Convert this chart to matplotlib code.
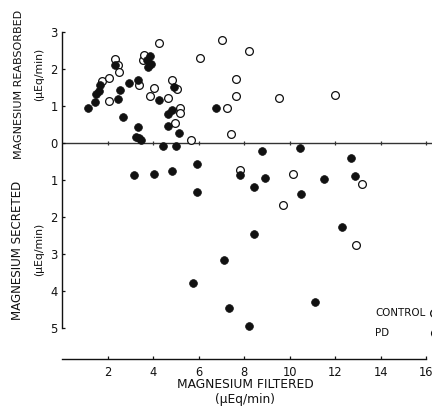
import matplotlib
matplotlib.use("Agg")
import matplotlib.pyplot as plt
from matplotlib.lines import Line2D

plt.rcParams["font.family"] = ["DejaVu Sans"]
INK = "#111111"

# Control (open circles): magnesium filtered vs net reabsorbed (+) / secreted (-)
ctrl_filtered = [2.06, 1.74, 2.06, 2.35, 2.47, 2.50, 3.37, 3.56, 3.59, 4.03, 3.88,
                 4.25, 4.65, 4.84, 5.06, 5.20, 5.20, 4.96, 5.68, 6.05, 7.04, 8.23,
                 7.64, 7.64, 7.25, 7.43, 9.53, 11.99, 7.83, 10.13, 13.20, 9.73, 12.91]
ctrl_net = [1.12, 1.68, 1.75, 2.26, 2.11, 1.92, 1.57, 2.24, 2.38, 1.49, 1.27,
            2.69, 1.22, 1.69, 1.46, 0.93, 0.80, 0.53, 0.08, 2.29, 2.78, 2.49,
            1.73, 1.27, 0.93, 0.24, 1.21, 1.30, -0.73, -0.84, -1.11, -1.68, -2.76]

# PD (filled circles)
pd_filtered = [1.15, 1.46, 1.50, 1.62, 1.69, 2.31, 2.45, 2.57, 2.68, 2.95, 3.35,
               3.34, 3.26, 3.38, 3.49, 3.72, 3.88, 3.80, 3.90, 4.25, 4.46, 4.67,
               4.66, 4.85, 4.91, 5.02, 5.16, 3.15, 4.05, 4.85, 5.94, 5.93, 6.76,
               5.76, 8.81, 10.45, 12.69, 7.83, 8.93, 8.42, 11.50, 12.89, 10.51,
               8.42, 12.29, 7.13, 7.35, 8.23, 11.12]
pd_net = [0.94, 1.10, 1.32, 1.41, 1.57, 2.11, 1.19, 1.43, 0.71, 1.61, 1.70,
          0.44, 0.17, 0.14, 0.09, 2.23, 2.34, 2.05, 2.12, 1.15, -0.08, 0.78,
          0.46, 0.89, 1.50, -0.08, 0.26, -0.88, -0.84, -0.77, -0.57, -1.34, 0.93,
          -3.78, -0.21, -0.15, -0.41, -0.88, -0.96, -1.19, -0.98, -0.89, -1.38,
          -2.46, -2.26, -3.16, -4.45, -4.95, -4.29]

x_ticks = [2, 4, 6, 8, 10, 12, 14, 16]
y_ticks = [3, 2, 1, 0, -1, -2, -3, -4, -5]
y_ticklabels = [str(abs(v)) for v in y_ticks]

fig = plt.figure(figsize=(4.32, 4.08), dpi=100)
ax = fig.add_axes([62 / 432, 1 - 359 / 408, 370 / 432, 334.5 / 408])
ax.set_xlim(0, 16.26)
ax.set_ylim(-5.84, 3.2)

# zero line with small tick marks
ax.axhline(0, color="#333333", lw=1.0, zorder=1)
ax.plot(x_ticks, [0] * len(x_ticks), "|", color="#333333", ms=3, mew=0.9, zorder=1)

ax.plot(ctrl_filtered, ctrl_net, "o", ms=5.6, mfc="white", mec=INK, mew=0.9,
        ls="none", zorder=3)
ax.plot(pd_filtered, pd_net, "o", ms=5.6, mfc=INK, mec=INK, mew=0.5,
        ls="none", zorder=4)

for s in ("top", "right"):
    ax.spines[s].set_visible(False)
ax.spines["left"].set_bounds(-5, 3)
ax.spines["bottom"].set_bounds(0, 16)
for s in ("left", "bottom"):
    ax.spines[s].set_linewidth(1.0)
    ax.spines[s].set_color(INK)

ax.set_xticks(x_ticks)
ax.set_xticklabels([str(v) for v in x_ticks])
ax.set_yticks(y_ticks)
ax.set_yticklabels(y_ticklabels)
ax.tick_params(direction="in", length=2.5, width=0.9, colors=INK, labelsize=8.3)
ax.tick_params(axis="x", pad=5)
ax.tick_params(axis="y", pad=3)

fig.text(245 / 432, 1 - 384 / 408, "MAGNESIUM FILTERED", ha="center", va="center",
         fontsize=8.8, color=INK)
fig.text(245 / 432, 1 - 399 / 408, "(\u03bcEq/min)", ha="center", va="center",
         fontsize=8.8, color=INK)
fig.text(19 / 432, 1 - 84 / 408, "MAGNESIUM REABSORBED", ha="center", va="center",
         rotation=90, fontsize=8.0, color=INK)
fig.text(39 / 432, 1 - 74 / 408, "(\u03bcEq/min)", ha="center", va="center",
         rotation=90, fontsize=7.8, color=INK)
fig.text(18 / 432, 1 - 250 / 408, "MAGNESIUM SECRETED", ha="center", va="center",
         rotation=90, fontsize=8.6, color=INK)
fig.text(39 / 432, 1 - 249 / 408, "(\u03bcEq/min)", ha="center", va="center",
         rotation=90, fontsize=7.8, color=INK)

# legend
fig.text(375 / 432, 1 - 313 / 408, "CONTROL", ha="left", va="center", fontsize=7.4, color=INK)
fig.text(375 / 432, 1 - 333 / 408, "PD", ha="left", va="center", fontsize=7.4, color=INK)
fig.add_artist(Line2D([434 / 432], [1 - 313 / 408], marker="o", ms=5.6, mfc="white",
                      mec=INK, mew=0.9, transform=fig.transFigure))
fig.add_artist(Line2D([435 / 432], [1 - 333 / 408], marker="o", ms=5.6, mfc=INK,
                      mec=INK, transform=fig.transFigure))

fig.savefig("out.png", dpi=100, facecolor="white")
